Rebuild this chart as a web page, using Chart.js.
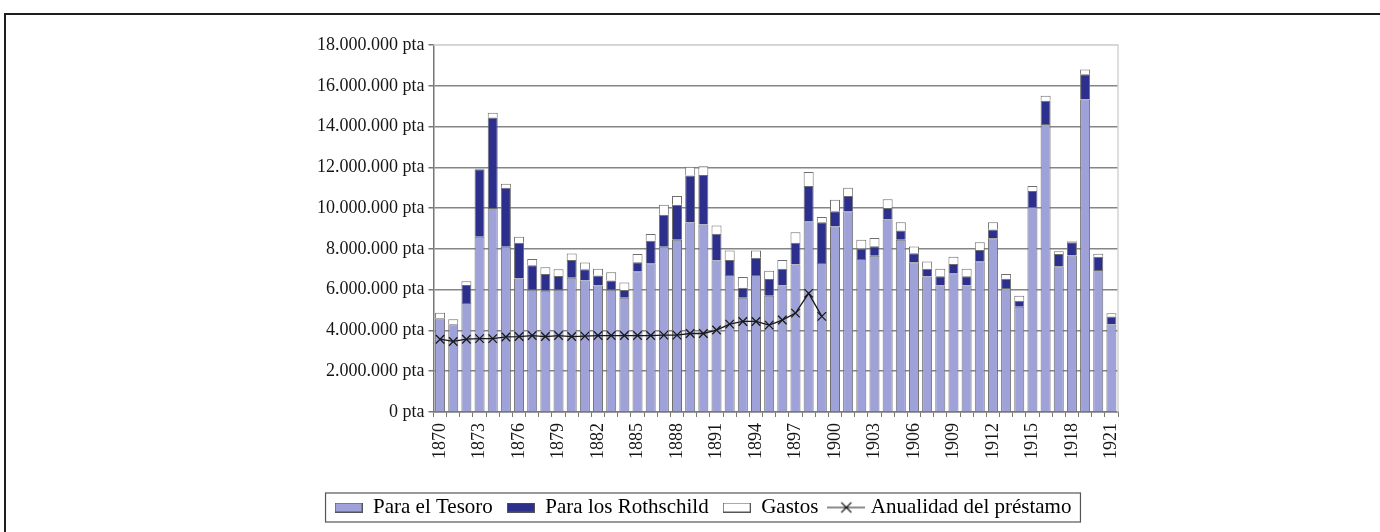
<!DOCTYPE html>
<html>
<head>
<meta charset="utf-8">
<script src="https://cdn.jsdelivr.net/npm/chart.js@4.4.1/dist/chart.umd.min.js"></script>
<style>
    html, body { margin: 0; padding: 0; background: #fff; }
    #marco { position: absolute; left: 4px; top: 13px; width: 1400px; height: 540px; border: 2px solid #1e1e1e; }
    #lienzo { position: absolute; left: 0; top: 0; width: 1380px; height: 532px; }
</style>
</head>
<body>
<div id="marco"></div>
<div id="lienzo"><canvas id="grafico"></canvas></div>
<script>
// ============= DATOS (millones de pesetas) =============
const anios = [
    '1870','1871','1872','1873','1874','1875','1876','1877','1878','1879',
    '1880','1881','1882','1883','1884','1885','1886','1887','1888','1889',
    '1890','1891','1892','1893','1894','1895','1896','1897','1898','1899',
    '1900','1901','1902','1903','1904','1905','1906','1907','1908','1909',
    '1910','1911','1912','1913','1914','1915','1916','1917','1918','1919',
    '1920','1921'
];

const paraTesoro = [
    4.60, 4.30, 5.35, 8.60, 10.00, 8.10, 6.55, 6.00, 5.95, 6.00,
    6.58, 6.45, 6.20, 6.00, 5.60, 6.90, 7.30, 8.10, 8.45, 9.30,
    9.20, 7.43, 6.72, 5.60, 6.72, 5.70, 6.20, 7.23, 9.36, 7.31,
    9.10, 9.85, 7.50, 7.66, 9.44, 8.45, 7.34, 6.64, 6.20, 6.80,
    6.20, 7.39, 8.52, 6.08, 5.16, 10.05, 14.12, 7.15, 7.67, 15.33,
    6.97, 4.29
];

const paraRothschild = [
    0.00, 0.00, 0.88, 3.30, 4.45, 2.90, 1.75, 1.20, 0.82, 0.67,
    0.88, 0.55, 0.50, 0.45, 0.38, 0.45, 1.10, 1.57, 1.72, 2.30,
    2.42, 1.31, 0.74, 0.50, 0.84, 0.82, 0.82, 1.07, 1.72, 2.00,
    0.74, 0.74, 0.52, 0.47, 0.56, 0.45, 0.45, 0.38, 0.46, 0.46,
    0.46, 0.56, 0.43, 0.45, 0.30, 0.79, 1.14, 0.60, 0.65, 1.23,
    0.65, 0.40
];

const gastos = [
    0.27, 0.25, 0.18, 0.03, 0.23, 0.20, 0.30, 0.30, 0.33, 0.33,
    0.31, 0.33, 0.33, 0.40, 0.37, 0.40, 0.33, 0.50, 0.42, 0.43,
    0.43, 0.41, 0.46, 0.52, 0.36, 0.41, 0.44, 0.52, 0.69, 0.25,
    0.57, 0.41, 0.43, 0.41, 0.43, 0.41, 0.33, 0.36, 0.36, 0.36,
    0.36, 0.38, 0.36, 0.24, 0.24, 0.24, 0.25, 0.13, 0.06, 0.24,
    0.14, 0.15
];

// solo hasta 1899
const anualidad = [
    3.57, 3.46, 3.57, 3.60, 3.60, 3.68, 3.70, 3.75, 3.70, 3.75,
    3.70, 3.72, 3.75, 3.75, 3.75, 3.75, 3.75, 3.77, 3.77, 3.85,
    3.85, 4.02, 4.31, 4.44, 4.44, 4.26, 4.51, 4.85, 5.82, 4.69
];

const ticksY = [0, 2, 4, 6, 8, 10, 12, 14, 16, 18];

// ============= COLORES =============
const COLORES = {
    tesoro:  '#9ea2d8',
    roth:    '#2c2f8c',
    gastos:  '#ffffff',
    borde:   '#6e6e6e',
    linea:   '#1a1a1a',
    rejilla: '#858585',
    texto:   '#151515'
};

const aPesetas = arr => arr.map(v => v * 1e6);
const formato = v => String(Math.round(v)).replace(/\B(?=(\d{3})+(?!\d))/g, '.') + ' pta';

Chart.defaults.font.family = '"Liberation Serif", "Times New Roman", serif';
Chart.defaults.color = COLORES.texto;

// muestras de la leyenda
function muestra(relleno) {
    const c = document.createElement('canvas');
    c.width = 28; c.height = 10;
    const g = c.getContext('2d');
    g.fillStyle = relleno;
    g.fillRect(0.5, 0.5, 27, 9);
    g.strokeStyle = '#555';
    g.lineWidth = 1;
    g.strokeRect(0.5, 0.5, 27, 9);
    return c;
}
function muestraLinea() {
    const c = document.createElement('canvas');
    c.width = 38; c.height = 14;
    const g = c.getContext('2d');
    g.strokeStyle = COLORES.linea;
    g.lineWidth = 1.2;
    g.beginPath();
    g.moveTo(0, 7); g.lineTo(38, 7);
    g.moveTo(14, 2); g.lineTo(24, 12);
    g.moveTo(24, 2); g.lineTo(14, 12);
    g.stroke();
    return c;
}
const muestras = [muestra(COLORES.tesoro), muestra(COLORES.roth), muestra(COLORES.gastos), muestraLinea()];

// recuadro de la leyenda y borde del área
const recuadros = {
    id: 'recuadros',
    beforeDatasetsDraw(chart) {
        const a = chart.chartArea, ctx = chart.ctx;
        ctx.save();
        ctx.strokeStyle = '#d4d4d4';
        ctx.lineWidth = 1.5;
        ctx.beginPath();
        ctx.moveTo(a.left, a.top);
        ctx.lineTo(a.right, a.top);
        ctx.lineTo(a.right, a.bottom);
        ctx.stroke();
        ctx.restore();
    },
    afterDraw(chart) {
        const cajas = chart.legend.legendHitBoxes;
        if (!cajas || !cajas.length) return;
        let x0 = Infinity, x1 = -Infinity, y0 = Infinity, y1 = -Infinity;
        cajas.forEach(b => {
            x0 = Math.min(x0, b.left); x1 = Math.max(x1, b.left + b.width);
            y0 = Math.min(y0, b.top);  y1 = Math.max(y1, b.top + b.height);
        });
        const ctx = chart.ctx;
        ctx.save();
        ctx.strokeStyle = '#555';
        ctx.lineWidth = 1.2;
        ctx.strokeRect(x0 - 9, y0 - 4, x1 - x0 + 18, y1 - y0 + 8);
        ctx.restore();
    }
};

const barra = (etiqueta, datos, color) => ({
    type: 'bar',
    label: etiqueta,
    data: aPesetas(datos),
    backgroundColor: color,
    borderColor: COLORES.borde,
    borderWidth: 1,
    stack: 'total',
    order: 1,
    barPercentage: 0.76,
    categoryPercentage: 1
});

new Chart(document.getElementById('grafico'), {
    type: 'bar',
    data: {
        labels: anios,
        datasets: [
            barra('Para el Tesoro', paraTesoro, COLORES.tesoro),
            barra('Para los Rothschild', paraRothschild, COLORES.roth),
            barra('Gastos', gastos, COLORES.gastos),
            {
                type: 'line',
                label: 'Anualidad del préstamo',
                data: aPesetas(anualidad),
                borderColor: COLORES.linea,
                borderWidth: 1.3,
                pointStyle: 'crossRot',
                pointRadius: 6,
                pointBorderWidth: 1.3,
                pointBorderColor: COLORES.linea,
                tension: 0,
                fill: false,
                stack: 'linea',
                order: 0
            }
        ]
    },
    plugins: [recuadros],
    options: {
        responsive: true,
        maintainAspectRatio: false,
        animation: false,
        layout: { padding: { left: 288, right: 262, top: 45, bottom: 4 } },
        plugins: {
            tooltip: { enabled: false },
            legend: {
                position: 'bottom',
                labels: {
                    usePointStyle: true,
                    pointStyleWidth: 28,
                    padding: 14,
                    font: { size: 21 },
                    generateLabels: () => ['Para el Tesoro', 'Para los Rothschild', 'Gastos', 'Anualidad del préstamo']
                        .map((t, i) => ({ text: t, pointStyle: muestras[i], datasetIndex: i, hidden: false, lineWidth: 0 }))
                }
            }
        },
        scales: {
            x: {
                stacked: true,
                afterFit: eje => { eje.height += 18; },
                grid: { display: true, drawOnChartArea: false, offset: true, tickLength: 5, color: '#777' },
                border: { color: '#777', width: 1.5 },
                ticks: {
                    autoSkip: false,
                    maxRotation: 90,
                    minRotation: 90,
                    padding: 6,
                    font: { size: 18 },
                    callback: (v, i) => (i % 3 === 0 ? anios[i] : '')
                }
            },
            y: {
                stacked: true,
                min: 0,
                max: 18e6,
                afterBuildTicks: eje => { eje.ticks = ticksY.map(v => ({ value: v * 1e6 })); },
                afterFit: eje => { eje.width += 25; },
                grid: {
                    color: c => (c.tick && c.tick.value === 18e6 ? '#d4d4d4' : COLORES.rejilla),
                    lineWidth: 1.5,
                    tickLength: 5,
                    tickColor: '#777'
                },
                border: { color: '#777', width: 1.5 },
                ticks: {
                    padding: 4,
                    font: { size: 18 },
                    callback: v => formato(v)
                }
            }
        }
    }
});
</script>
</body>
</html>
